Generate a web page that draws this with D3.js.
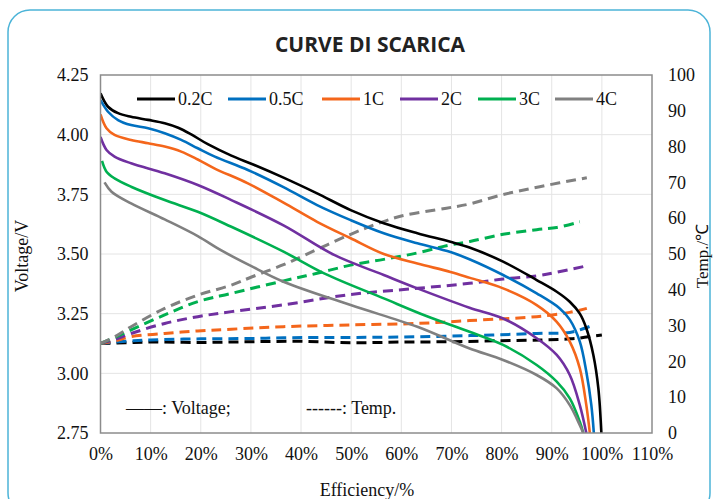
<!DOCTYPE html>
<html><head><meta charset="utf-8">
<script src="https://cdn.jsdelivr.net/npm/d3@7"></script>
<style>html,body{margin:0;padding:0;background:#fff;}svg{display:block;}</style>
</head><body>
<svg id="c" width="718" height="499"></svg>
<script>
const title = "CURVE DI SCARICA";
const seriesNames = ["0.2C","0.5C","1C","2C","3C","4C"];
const seriesColors = ["#000000","#0070c0","#f4661b","#7030a0","#00b050","#808080"];
const xTicks = [0,10,20,30,40,50,60,70,80,90,100,110];
const yTicks = [2.75,3.00,3.25,3.50,3.75,4.00,4.25];
const y2Ticks = [0,10,20,30,40,50,60,70,80,90,100];

// Voltage curves [efficiency %, V]
const volt02C = [[0,4.173],[1.5,4.117],[3.5,4.09],[6.1,4.075],[9.5,4.062],[12.8,4.048],[15.5,4.029],[18.1,4.001],[21.4,3.960],[26.1,3.912],[30.7,3.873],[36.5,3.82],[43.2,3.754],[49.9,3.684],[56.5,3.629],[63.2,3.587],[69.8,3.551],[73.6,3.527],[80.3,3.468],[87,3.391],[91,3.342],[93.6,3.30],[95.6,3.25],[96.9,3.189],[98.3,3.077],[99.3,2.937],[99.9,2.75]];
const volt05C = [[0,4.145],[1.5,4.096],[3.5,4.061],[6.1,4.04],[9.5,4.027],[12.8,4.006],[16.1,3.978],[19.4,3.943],[22.8,3.908],[29.4,3.852],[36.5,3.78],[43.2,3.705],[49.9,3.642],[56.5,3.587],[63.2,3.545],[69.8,3.508],[73.7,3.477],[80.3,3.412],[87,3.335],[91.6,3.272],[93.6,3.225],[95.6,3.133],[96.9,3.007],[97.9,2.867],[98.4,2.75]];
const volt1C = [[0,4.085],[1.2,4.027],[2.8,3.999],[6.1,3.978],[9.5,3.964],[12.8,3.95],[16.1,3.929],[19.4,3.896],[22.8,3.858],[29.4,3.796],[36.5,3.715],[43.2,3.635],[49.9,3.566],[56.5,3.5],[63.2,3.46],[69.8,3.425],[73.7,3.40],[80.3,3.356],[87,3.286],[91,3.216],[93.6,3.133],[95.6,3.021],[96.9,2.867],[97.6,2.75]];
const volt2C = [[0,3.99],[1.2,3.936],[2.8,3.908],[6.1,3.88],[12.8,3.838],[19.4,3.789],[26.1,3.726],[36.5,3.62],[46.6,3.496],[56.5,3.412],[63.2,3.356],[73.6,3.275],[80.3,3.23],[87,3.147],[91,3.077],[93.6,2.993],[95.6,2.867],[96.9,2.75]];
const volt3C = [[0.3,3.89],[1.2,3.845],[2.8,3.817],[6.1,3.782],[12.8,3.726],[19.4,3.677],[26.1,3.614],[36.5,3.51],[44.6,3.419],[56.5,3.314],[65,3.24],[73.6,3.174],[80.3,3.119],[87,3.035],[91,2.965],[93.6,2.895],[95.6,2.797],[96.3,2.75]];
const volt4C = [[0.8,3.80],[2.2,3.761],[6.1,3.712],[12.8,3.645],[19.4,3.575],[24.1,3.515],[30,3.45],[36.5,3.384],[49.9,3.286],[63.2,3.195],[73.5,3.105],[80.3,3.056],[87,2.993],[91,2.937],[93.6,2.867],[95.6,2.783],[96.3,2.75]];

// Temperature curves [efficiency %, °C]
const temp02C = [[0,25],[5,25.2],[10,25.4],[20,25.3],[30,25.5],[40,25.6],[50,25.2],[60,25.4],[70,25.5],[80,25.8],[88,26],[93.6,26.3],[96,26.6],[98,27],[100,27.4]];
const temp05C = [[0,25],[5,25.6],[10,26],[20,26.3],[30,26.4],[36.5,26.6],[50,26.7],[60,26.8],[73.7,27.2],[87,27.8],[93.6,28.1],[95.6,28.8],[98,30]];
const temp1C = [[0,25],[3,25.8],[6.1,26.9],[12.8,27.8],[19.4,28.5],[26.1,29.0],[36.5,29.7],[49.9,30.2],[63.2,30.6],[73.6,31.4],[87,32.5],[93.6,33.7],[97,34.8]];
const temp2C = [[0,25],[3,26.2],[6.1,27.8],[12.8,30.6],[19.4,32.5],[26.1,33.9],[36.5,35.8],[49.9,38.7],[63.2,40.4],[73.6,41.8],[80.3,43.0],[87,43.9],[91,44.9],[97,46.7]];
const temp3C = [[0,25],[3,26.8],[6.1,28.8],[12.8,33.0],[19.4,36.7],[26.1,39.0],[36.5,42.5],[43.2,44.6],[49.9,46.9],[56.5,48.5],[63.2,50.3],[69,52.3],[73.7,53.5],[80.3,55.5],[87,56.8],[91,57.4],[95.6,59]];
const temp4C = [[0,25],[3,27],[6.1,29.7],[12.8,34.8],[19.4,38.5],[26.1,41.3],[30,43.5],[36.5,47],[40,49.2],[49.9,55.5],[55.7,58.7],[60,60.6],[69,62.8],[73.7,64],[80,66.5],[87.6,68.8],[97,71.3]];

const voltSeries = [volt02C,volt05C,volt1C,volt2C,volt3C,volt4C];
const tempSeries = [temp02C,temp05C,temp1C,temp2C,temp3C,temp4C];

const svg = d3.select("#c");
const L = 100.5, R = 652, T = 75, B = 433;
const x = d3.scaleLinear().domain([0,110]).range([L,R]);
const y = d3.scaleLinear().domain([2.75,4.25]).range([B,T]);
const y2 = d3.scaleLinear().domain([0,100]).range([B,T]);
const serif = "'Liberation Serif','Times New Roman',serif";

// outer rounded frame
svg.append("rect").attr("x",8).attr("y",10).attr("width",702).attr("height",505)
  .attr("rx",22).attr("fill","#fff").attr("stroke","#4cb4d8").attr("stroke-width",1.5);

svg.append("text").attr("x",370).attr("y",52).attr("text-anchor","middle")
  .attr("font-family","'Open Sans',sans-serif").attr("font-weight","bold").attr("font-size",21)
  .attr("fill","#222").text(title);

// grid
const g = svg.append("g");
g.selectAll(".vg").data(xTicks.slice(1,-1)).enter().append("line")
  .attr("x1",d=>x(d)).attr("x2",d=>x(d)).attr("y1",T).attr("y2",B)
  .attr("stroke","#e4e4e4").attr("stroke-width",1);
g.selectAll(".hg").data(yTicks.slice(1,-1)).enter().append("line")
  .attr("x1",L).attr("x2",R).attr("y1",d=>y(d)).attr("y2",d=>y(d))
  .attr("stroke","#e4e4e4").attr("stroke-width",1);

// axes
function styleAxis(sel){
  sel.select(".domain").remove();
  sel.selectAll("text").attr("font-family",serif).attr("font-size",18).attr("fill","#111");
}
svg.append("g").attr("transform",`translate(${L},0)`)
  .call(d3.axisLeft(y).tickValues(yTicks).tickFormat(d3.format(".2f")).tickSize(0).tickPadding(12))
  .call(styleAxis);
svg.append("g").attr("transform",`translate(${R},0)`)
  .call(d3.axisRight(y2).tickValues(y2Ticks).tickFormat(d3.format("d")).tickSize(0).tickPadding(16))
  .call(styleAxis);
svg.append("g").attr("transform",`translate(0,${B})`)
  .call(d3.axisBottom(x).tickValues(xTicks).tickFormat(d=>d+"%").tickSize(0).tickPadding(14))
  .call(styleAxis);

// clip
svg.append("clipPath").attr("id","pc").append("rect").attr("x",L).attr("y",T).attr("width",R-L).attr("height",B-T);
const plot = svg.append("g").attr("clip-path","url(#pc)");

const lineV = d3.line().x(d=>x(d[0])).y(d=>y(d[1])).curve(d3.curveCatmullRom.alpha(0.5));
const lineT = d3.line().x(d=>x(d[0])).y(d=>y2(d[1])).curve(d3.curveCatmullRom.alpha(0.5));

tempSeries.forEach((s,i)=>{
  plot.append("path").datum(s).attr("d",lineT).attr("fill","none")
    .attr("stroke",seriesColors[i]).attr("stroke-width",3).attr("stroke-dasharray","10,6");
});
voltSeries.forEach((s,i)=>{
  plot.append("path").datum(s).attr("d",lineV).attr("fill","none")
    .attr("stroke",seriesColors[i]).attr("stroke-width",2.6);
});

// plot border
svg.append("rect").attr("x",L).attr("y",T).attr("width",R-L).attr("height",B-T)
  .attr("fill","none").attr("stroke","#8c8c8c").attr("stroke-width",1.5);

// legend
const legX = [137,228,322,400,478,555];
const legY = 99;
seriesNames.forEach((n,i)=>{
  svg.append("line").attr("x1",legX[i]).attr("x2",legX[i]+38).attr("y1",legY).attr("y2",legY)
    .attr("stroke",seriesColors[i]).attr("stroke-width",3);
  svg.append("text").attr("x",legX[i]+41).attr("y",legY+6).attr("font-family",serif)
    .attr("font-size",18).attr("fill","#111").text(n);
});

// notes
svg.append("text").attr("x",126).attr("y",414).attr("font-family",serif).attr("font-size",18).attr("fill","#111").text("——: Voltage;");
svg.append("text").attr("x",306).attr("y",414).attr("font-family",serif).attr("font-size",18).attr("fill","#111").text("------: Temp.");

// axis titles
svg.append("text").attr("transform","translate(28,256) rotate(-90)").attr("text-anchor","middle")
  .attr("font-family",serif).attr("font-size",18).attr("fill","#111").text("Voltage/V");
svg.append("text").attr("transform","translate(708,256) rotate(-90)").attr("text-anchor","middle")
  .attr("font-family",serif).attr("font-size",17).attr("fill","#111").text("Temp./℃");
svg.append("text").attr("x",367).attr("y",496).attr("text-anchor","middle")
  .attr("font-family",serif).attr("font-size",18).attr("fill","#111").text("Efficiency/%");
</script>
</body></html>
